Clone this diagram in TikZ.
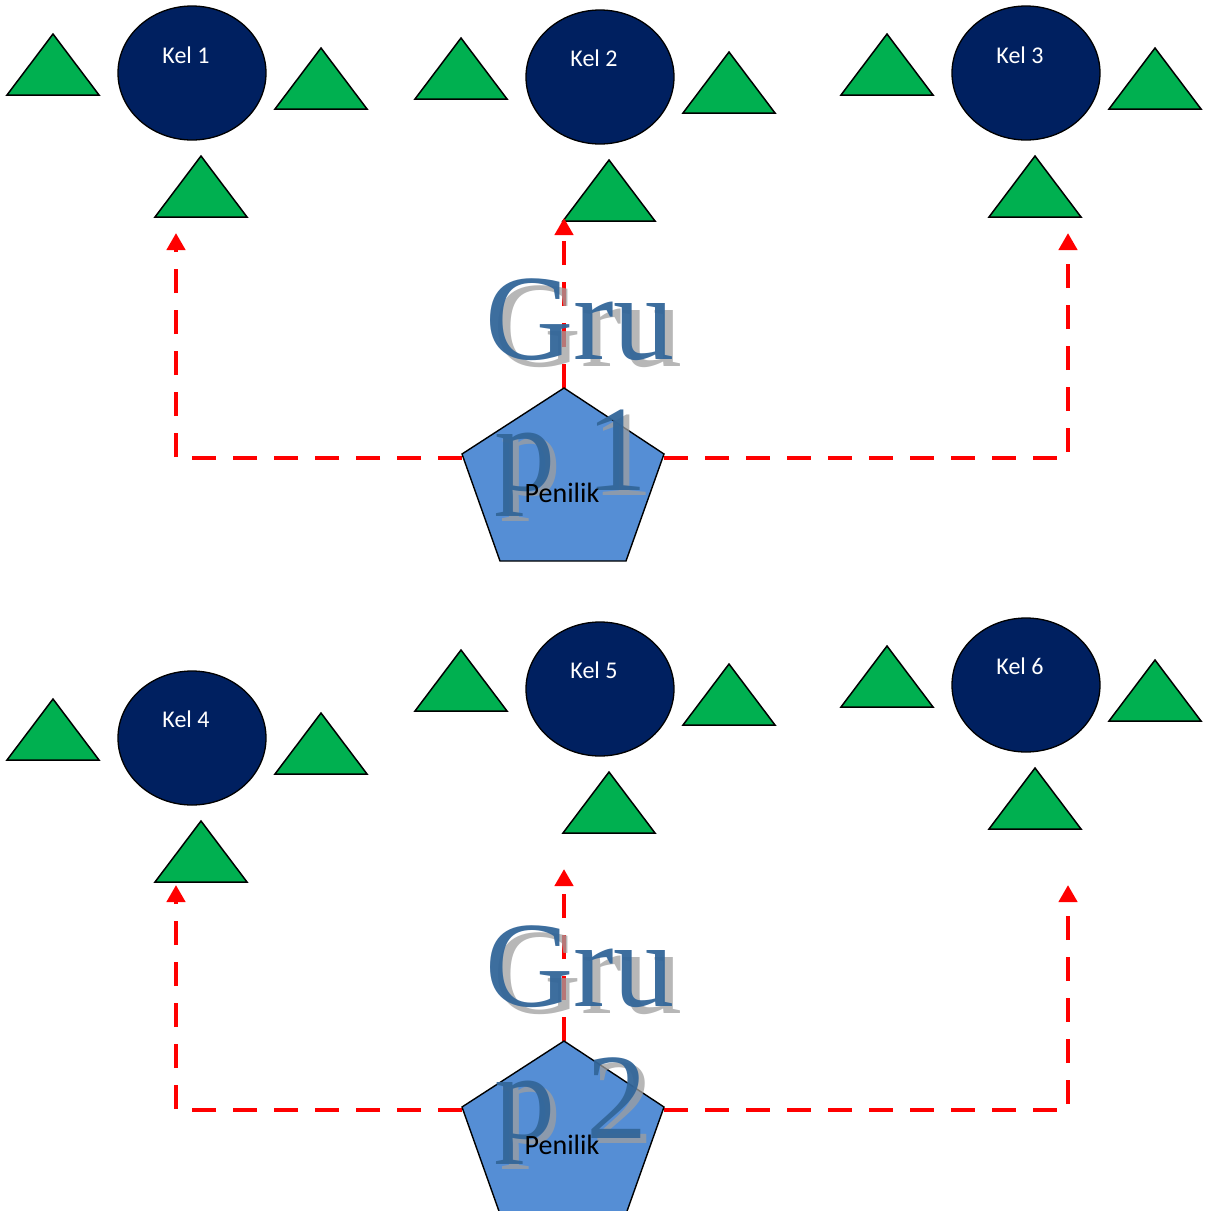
\documentclass[tikz,border=0pt]{standalone}
\usepackage{fontspec}
\setmainfont{Liberation Serif}
\newfontfamily\calib{Carlito}
\usetikzlibrary{arrows.meta,shapes.geometric}
\definecolor{navy}{HTML}{002060}
\definecolor{tgreen}{HTML}{00B050}
\definecolor{pent}{HTML}{558ED5}
\definecolor{wa}{HTML}{336699}
\newcommand\kgtri[2]{\draw[tri] (#1,#2) -- ++(46,61) -- ++(-92,0) -- cycle;}
\begin{document}
\begin{tikzpicture}[x=1pt,y=-1pt,
  kel/.style={ellipse,draw=black,line width=1.3pt,fill=navy,minimum width=148pt,minimum height=134pt,inner sep=0pt},
  keltext/.style={text=white,font=\calib\fontsize{24}{28}\selectfont,inner sep=0pt},
  tri/.style={draw=black,line width=1.5pt,fill=tgreen,line join=miter},
  pentstyle/.style={draw=black,line width=1.4pt,fill=pent,line join=miter},
  conn/.style={red,line width=4.8pt,dash pattern=on 24pt off 17pt,
    -{Triangle[width=18pt,length=17pt,sep=16pt]}},
  wordart/.style={text=wa,font=\fontsize{122}{131}\selectfont,inner sep=0pt,anchor=base,opacity=0.95},
  wshadow/.style={text=gray!75,font=\fontsize{122}{131}\selectfont,inner sep=0pt,anchor=base,opacity=0.75},
  pentext/.style={text=black,font=\calib\fontsize{28}{30}\selectfont,inner sep=0pt}]
\useasboundingbox (0,0) rectangle (1209,1211);
\clip (0,0) rectangle (1209,1211);

% ---------- group 1 ----------
\kgtri{53}{34}\kgtri{321}{48}\kgtri{201}{156}
\kgtri{461}{38}\kgtri{729}{52}\kgtri{609}{160}
\kgtri{887}{34}\kgtri{1155}{48}\kgtri{1035}{156}
\node[kel] (k1) at (192,73) {};
\node[kel] (k2) at (600,77) {};
\node[kel] (k3) at (1026,73) {};
\node[keltext] (t1) at (186,55) {Kel 1};
\node[keltext] (t2) at (594,58) {Kel 2};
\node[keltext] (t3) at (1020,55) {Kel 3};

\coordinate (p1t) at (564,388);
\coordinate (p1l) at (462,458);
\coordinate (p1r) at (664,458);
\coordinate (a1) at (176,217);
\coordinate (a2) at (564,202);
\coordinate (a3) at (1068,217);
\draw[conn] (p1l) -| (a1);
\draw[conn] (p1r) -| (a3);
\draw[conn] (p1t) -- (a2);
\draw[pentstyle] (564,388) -- (664,454) -- (626,561) -- (500,561) -- (462,454) -- cycle;
\node[wshadow] (g1s) at (588,366) {Gru};
\node[wshadow] (h1s) at (577,495) {p 1};
\node[wordart] (g1) at (580,359) {Gru};
\node[wordart] (h1) at (571,490) {p 1};
\node[pentext] (pen1) at (562,493) {Penilik};

% ---------- group 2 ----------
\kgtri{53}{699}\kgtri{321}{713}\kgtri{201}{821}
\kgtri{461}{650}\kgtri{729}{664}\kgtri{609}{772}
\kgtri{887}{646}\kgtri{1155}{660}\kgtri{1035}{768}
\node[kel] (k4) at (192,738) {};
\node[kel] (k5) at (600,689) {};
\node[kel] (k6) at (1026,685) {};
\node[keltext] (t4) at (186,719) {Kel 4};
\node[keltext] (t5) at (594,670) {Kel 5};
\node[keltext] (t6) at (1020,666) {Kel 6};

\coordinate (p2t) at (564,1041);
\coordinate (p2l) at (462,1110);
\coordinate (p2r) at (664,1110);
\coordinate (a4) at (176,869);
\coordinate (a5) at (564,853);
\coordinate (a6) at (1068,869);
\draw[conn] (p2l) -| (a4);
\draw[conn] (p2r) -| (a6);
\draw[conn] (p2t) -- (a5);
\draw[pentstyle] (564,1041) -- (664,1107) -- (626,1214) -- (500,1214) -- (462,1107) -- cycle;
\node[wshadow] (g2s) at (588,1013) {Gru};
\node[wshadow] (h2s) at (577,1143) {p 2};
\node[wordart] (g2) at (580,1006) {Gru};
\node[wordart] (h2) at (571,1138) {p 2};
\node[pentext] (pen2) at (562,1145) {Penilik};
\end{tikzpicture}
\end{document}
